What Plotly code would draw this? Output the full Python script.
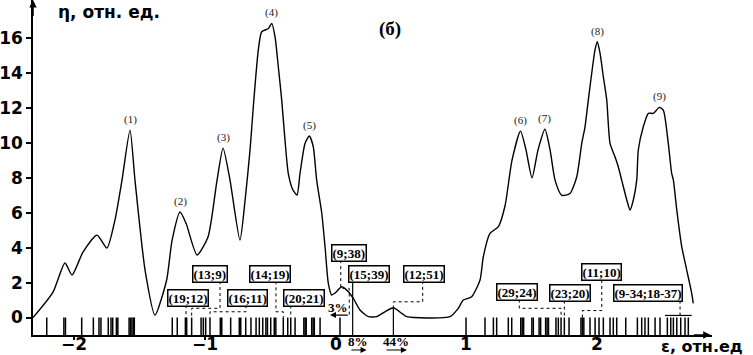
import plotly.graph_objects as go

# ---- data ----
curve_x = [-2.311, -2.158, -2.067, -2.013, -1.929, -1.822, -1.746, -1.685, -1.631, -1.570,
           -1.532, -1.455, -1.379, -1.290, -1.249, -1.188, -1.142, -1.058, -0.974, -0.905,
           -0.859, -0.806, -0.730, -0.691, -0.653, -0.628, -0.590, -0.564, -0.513, -0.487,
           -0.462, -0.437, -0.411, -0.386, -0.361, -0.325, -0.294, -0.271, -0.233, -0.200,
           -0.170, -0.144, -0.105, -0.080, -0.055, -0.029, -0.004, 0.047, 0.086, 0.136,
           0.187, 0.251, 0.315, 0.378, 0.442, 0.506, 0.544, 0.875, 0.938, 0.976,
           1.040, 1.104, 1.129, 1.180, 1.244, 1.295, 1.348, 1.413, 1.455, 1.501,
           1.547, 1.600, 1.639, 1.677, 1.728, 1.791, 1.843, 1.881, 1.906, 1.931,
           1.957, 1.982, 2.000, 2.021, 2.046, 2.072, 2.097, 2.135, 2.160, 2.186,
           2.225, 2.250, 2.275, 2.301, 2.313, 2.351, 2.390, 2.428, 2.474, 2.504,
           2.542, 2.568, 2.581, 2.607, 2.645, 2.683, 2.721, 2.733]
curve_y = [0.00, 1.46, 3.12, 2.43, 3.75, 4.72, 3.98, 5.58, 7.87, 10.73,
           7.87, 2.72, 0.14, 2.15, 4.40, 6.04, 5.40, 3.58, 4.61, 7.87,
           9.70, 7.87, 4.44, 6.70, 9.60, 12.07, 15.31, 16.36, 16.55, 16.84,
           16.07, 14.36, 12.45, 10.16, 8.26, 7.30, 7.01, 8.26, 9.97, 10.39,
           9.78, 7.87, 5.97, 4.05, 1.96, 1.29, 1.40, 1.76, 1.57, 1.10,
           0.43, 0.05, 0.05, 0.33, 0.56, 0.24, 0.05, 0.05, 0.53, 1.00,
           1.19, 2.15, 3.48, 4.82, 5.20, 6.40, 9.00, 10.67, 9.60, 8.00,
           9.60, 10.78, 9.60, 7.87, 7.00, 7.10, 8.06, 9.97, 10.92, 12.45,
           13.98, 15.31, 15.79, 15.12, 13.78, 12.45, 9.97, 9.20, 8.63, 7.87,
           6.73, 6.15, 6.73, 7.87, 9.59, 10.92, 11.69, 11.69, 12.03, 11.88,
           9.97, 8.25, 7.87, 6.15, 4.05, 2.72, 1.39, 0.81]

peak_labels = ["(1)", "(2)", "(3)", "(4)", "(5)", "(6)", "(7)", "(8)", "(9)"]
peak_x = [-1.570, -1.188, -0.859, -0.487, -0.200, 1.413, 1.600, 2.000, 2.474]

line_x = [-2.206, -2.075, -2.063, -1.939, -1.850, -1.807, -1.792, -1.736, -1.715, -1.702,
          -1.674, -1.663, -1.577, -1.566, -1.555, -1.544, -1.537,
          -1.247, -1.209, -1.147, -1.137, -1.099, -1.027, -1.010, -0.992, -0.959,
          -0.880, -0.869, -0.801, -0.735, -0.724, -0.686, -0.646, -0.607, -0.582, -0.556,
          -0.532, -0.520, -0.495, -0.468, -0.456, -0.399, -0.365, -0.342, -0.309,
          -0.242, -0.232, -0.224, -0.182, -0.171, -0.162, -0.118, 0.034, 0.997,
          1.142, 1.206, 1.231, 1.320, 1.346, 1.415, 1.426, 1.437, 1.500, 1.511,
          1.555, 1.567, 1.605, 1.616, 1.627, 1.684, 1.702, 1.723, 1.748, 1.784,
          1.875, 1.886, 1.897, 1.944, 1.983, 2.013, 2.046, 2.097, 2.122, 2.148,
          2.217, 2.306, 2.339, 2.364, 2.390, 2.441, 2.479, 2.535, 2.561, 2.581,
          2.607, 2.637, 2.670, 2.695]

x_ticks = [-2, -1, 0, 1, 2]
y_ticks = [0, 2, 4, 6, 8, 10, 12, 14, 16]

box_labels = ["(19;12)", "(13;9)", "(16;11)", "(14;19)", "(20;21)", "(9;38)", "(15;39)",
              "(12;51)", "(29;24)", "(23;20)", "(11;10)", "(9-34;18-37)"]
box_x = [-1.124, -0.959, -0.676, -0.500, -0.241, 0.103, 0.256, 0.676, 1.390, 1.795, 2.032, 2.387]
box_y = [1.14, 2.52, 1.14, 2.49, 1.11, 3.72, 2.52, 2.52, 1.46, 1.40, 2.58, 1.40]

# dotted leader lines from the boxes to the spectral lines
dotted_paths = [
    [(-1.142, 0.71), (-1.142, 0.0)],
    [(-0.882, 2.09), (-0.882, 0.53), (-1.099, 0.53), (-1.099, 0.0)],
    [(-0.684, 0.71), (-0.684, 0.33), (-0.959, 0.33), (-0.959, 0.0)],
    [(-0.455, 2.07), (-0.455, 0.33), (-0.399, 0.33), (-0.399, 0.0)],
    [(-0.342, 0.69), (-0.342, 0.0)],
    [(0.040, 3.29), (0.040, 1.67), (0.105, 1.67), (0.105, 0.10)],
    [(0.666, 2.10), (0.666, 0.90), (0.442, 0.90), (0.442, 0.56)],
    [(1.404, 1.03), (1.404, 0.53), (1.723, 0.53), (1.723, 0.0)],
    [(1.748, 0.97), (1.748, 0.0)],
    [(2.034, 2.15), (2.034, 0.40), (1.886, 0.40), (1.886, 0.0)],
    [(2.632, 0.97), (2.632, 0.12)],
]
solid_paths = [
    [(0.131, 2.10), (0.131, -1.0)],
    [(0.442, 0.56), (0.442, -1.0)],
    [(2.517, 0.12), (2.721, 0.12)],
]

# "3%" sits inside the plot; "8%" and "44%" sit just under the axis
in_pct_label, in_pct_x, in_pct_y = "3%", 0.019, 0.60
in_arrow_from, in_arrow_to, in_arrow_y = 0.105, -0.042, 0.14
out_pct_labels = ["8%", "44%"]
out_pct_x = [0.174, 0.462]
out_arrow_from = [0.110, 0.378]
out_arrow_to = [0.237, 0.545]

X_MIN, X_MAX = -2.311, 2.876
Y_MIN, Y_MAX = -1.0, 18.18

fig = go.Figure()

# spectral lines (bottom strip)
sx, sy = [], []
for v in line_x:
    sx += [v, v, None]
    sy += [Y_MIN, 0.0, None]
fig.add_trace(go.Scatter(x=sx, y=sy, mode="lines", line=dict(color="black", width=1.5),
                         hoverinfo="skip", showlegend=False))

# main curve
fig.add_trace(go.Scatter(x=curve_x, y=curve_y, mode="lines",
                         line=dict(color="black", width=1.4, shape="spline", smoothing=0.6),
                         showlegend=False))

# leader lines
for p in dotted_paths:
    fig.add_trace(go.Scatter(x=[a for a, b in p], y=[b for a, b in p], mode="lines",
                             line=dict(color="black", width=1, dash="dot"),
                             hoverinfo="skip", showlegend=False))
for p in solid_paths:
    fig.add_trace(go.Scatter(x=[a for a, b in p], y=[b for a, b in p], mode="lines",
                             line=dict(color="black", width=1.2),
                             hoverinfo="skip", showlegend=False))

tick_font = dict(family="DejaVu Sans", size=17, color="black", weight="bold")
pct_font = dict(family="Liberation Serif", size=13, color="black", weight="bold")

ann = []
# x tick labels (drawn as text so they sit tight under the axis)
for t in x_ticks:
    ann.append(dict(x=t, y=Y_MIN, text=str(t).replace("-", "\u2212"), showarrow=False,
                    yanchor="top", yshift=3, font=tick_font))
# peak labels
for lab, px in zip(peak_labels, peak_x):
    py = curve_y[curve_x.index(px)]
    ann.append(dict(x=px, y=py, text=lab, showarrow=False, yanchor="bottom", yshift=2,
                    font=dict(family="Liberation Serif", size=11, color="#222")))
# boxed labels
for lab, bx, by in zip(box_labels, box_x, box_y):
    ann.append(dict(x=bx, y=by, text=lab, showarrow=False, bgcolor="white",
                    bordercolor="black", borderwidth=1.5, borderpad=0,
                    font=dict(family="Liberation Serif", size=13, color="black", weight="bold")))
# percent labels + arrows
ann.append(dict(x=in_pct_x, y=in_pct_y, text=in_pct_label, showarrow=False, font=pct_font))
ann.append(dict(x=in_arrow_to, y=in_arrow_y, ax=in_arrow_from, ay=in_arrow_y, axref="x", ayref="y",
                text="", showarrow=True, arrowhead=2, arrowsize=1, arrowwidth=1.2, arrowcolor="black"))
for lab, tx, a0, a1 in zip(out_pct_labels, out_pct_x, out_arrow_from, out_arrow_to):
    ann.append(dict(x=tx, y=0, yref="paper", text=lab, showarrow=False, yanchor="middle",
                    yshift=-6, font=pct_font))
    ann.append(dict(x=a1, y=0, yref="paper", ax=a0, ay=0, axref="x", ayref="pixel", text="",
                    yshift=-15, showarrow=True, arrowhead=2, arrowsize=1, arrowwidth=1.2,
                    arrowcolor="black"))
# axis arrows
ann.append(dict(x=X_MIN, y=Y_MAX, ax=X_MIN, ay=Y_MAX - 1.0, axref="x", ayref="y", text="",
                showarrow=True, arrowhead=2, arrowsize=1, arrowwidth=1.5, arrowcolor="black"))
ann.append(dict(x=X_MAX - 0.01, y=Y_MIN, ax=X_MAX - 0.15, ay=Y_MIN, axref="x", ayref="y", text="",
                showarrow=True, arrowhead=2, arrowsize=1, arrowwidth=1.5, arrowcolor="black"))
# axis titles and panel mark
ann.append(dict(x=-1.73, y=17.49, text="η, отн. ед.", showarrow=False,
                font=dict(family="DejaVu Sans", size=17, color="black", weight="bold")))
ann.append(dict(x=2.80, y=0, yref="paper", yanchor="middle", yshift=-11, text="ε, отн.ед",
                showarrow=False,
                font=dict(family="DejaVu Sans", size=16, color="black", weight="bold")))
ann.append(dict(x=0.416, y=16.51, text="(б)", showarrow=False,
                font=dict(family="Liberation Serif", size=19, color="black", weight="bold")))

fig.update_layout(
    width=753, height=355,
    margin=dict(l=33, r=41, t=0, b=20, autoexpand=False),
    paper_bgcolor="white", plot_bgcolor="white",
    annotations=ann,
    xaxis=dict(range=[X_MIN, X_MAX], showgrid=False, zeroline=False, showline=True,
               linecolor="black", linewidth=1.5, ticks="outside", ticklen=3, tickwidth=1.5,
               tickcolor="black", tickvals=x_ticks, showticklabels=False, automargin=False),
    yaxis=dict(range=[Y_MIN, Y_MAX], showgrid=False, zeroline=False, showline=True,
               linecolor="black", linewidth=1.5, ticks="outside", ticklen=5, tickwidth=1.5,
               tickcolor="black", tickvals=y_ticks, automargin=False, tickfont=tick_font),
)

fig.write_html("out.html", config={"displayModeBar": False},
               post_script="document.body.style.margin='0';document.body.style.overflow='hidden';")
